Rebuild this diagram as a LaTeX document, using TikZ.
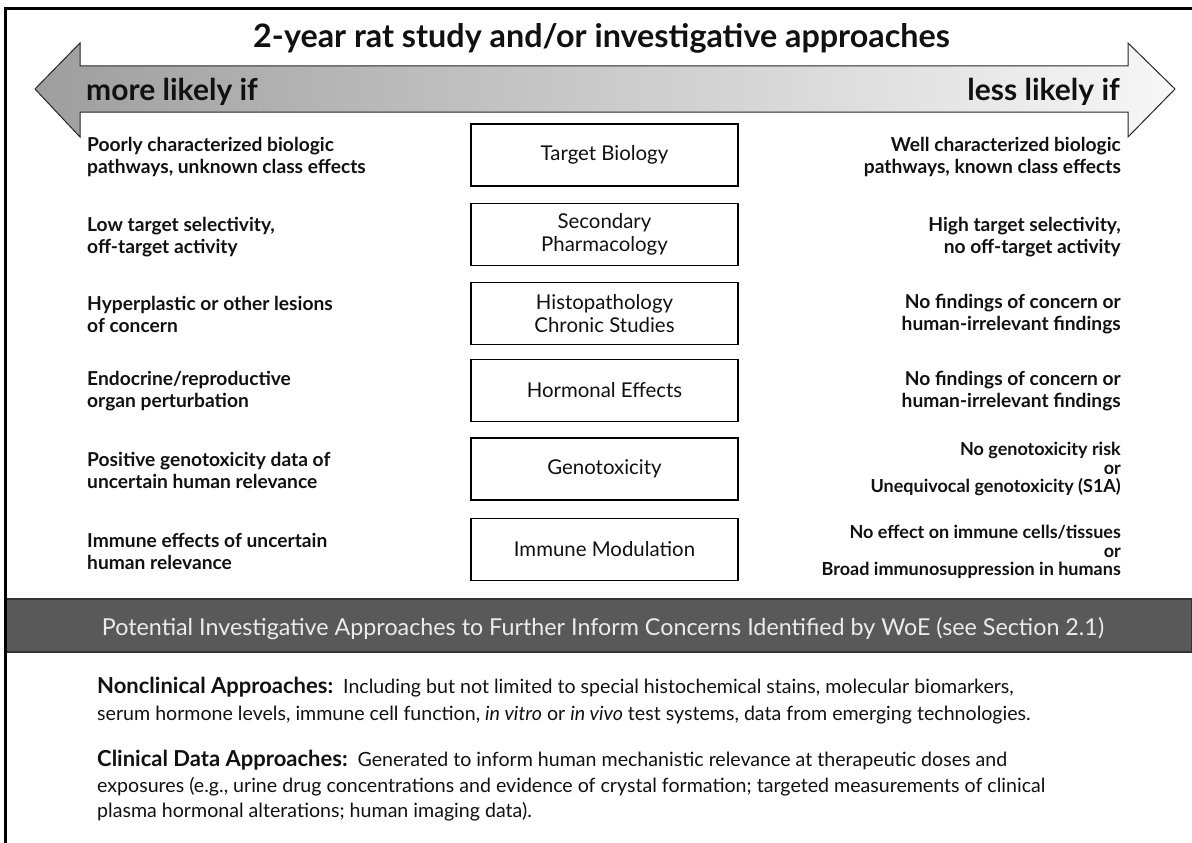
\documentclass[tikz,border=0pt]{standalone}
\usepackage{fontspec}
\setmainfont{Lato}
\definecolor{band}{HTML}{595959}
\definecolor{bandtext}{HTML}{EBEBEB}
\definecolor{ink}{HTML}{111111}
\newcommand{\parahead}[1]{{\bfseries\fontsize{22}{26}\selectfont #1}}
\begin{document}
\begin{tikzpicture}[x=1pt,y=-1pt,
  lefttxt/.style={anchor=west, align=left, inner sep=0, text=ink,
    font=\bfseries\fontsize{19.2}{22}\selectfont},
  righttxt/.style={anchor=east, align=right, inner sep=0, text=ink,
    font=\bfseries\fontsize{19.2}{22}\selectfont},
  rightthree/.style={righttxt, font=\bfseries\fontsize{18}{18.5}\selectfont},
  boxnode/.style={draw=black, line width=1.2, minimum width=267, minimum height=62,
    align=center, inner sep=0, text=ink, font=\fontsize{20.4}{23.5}\selectfont},
  bigtxt/.style={inner sep=0, text=ink, font=\bfseries\fontsize{32.3}{35}\selectfont},
  sidetxt/.style={inner sep=0, text=ink, font=\bfseries\fontsize{30}{32}\selectfont},
  paratxt/.style={anchor=base west, inner sep=0, text=ink,
    font=\fontsize{19.6}{26}\selectfont}
]
\useasboundingbox (0,0) rectangle (1192,843);
\fill[white] (0,0) rectangle (1192,843);

% frame
\draw[line width=3, black] (5.5,843) -- (5.5,8.5) -- (1192,8.5);

% double arrow
\shadedraw[left color=black!38, middle color=black!34, right color=black!3,
  draw=black!85, line width=1]
  (35,89) -- (80,43) -- (80,66) -- (1128,66) -- (1128,43) -- (1175,89)
  -- (1128,137) -- (1128,112) -- (80,112) -- (80,137) -- cycle;

\node[bigtxt, anchor=base] (title) at (601.5,48) {2-year rat study and/or investigative approaches};
\node[sidetxt, anchor=base west] (more) at (86,100) {more likely if};
\node[sidetxt, anchor=base east] (less) at (1120,100) {less likely if};

% central boxes
\node[boxnode] (b1) at (604.5,155) {Target Biology};
\node[boxnode] (b2) at (604.5,234.5) {Secondary\\Pharmacology};
\node[boxnode] (b3) at (604.5,313.5) {Histopathology\\Chronic Studies};
\node[boxnode] (b4) at (604.5,390.5) {Hormonal Effects};
\node[boxnode] (b5) at (604.5,469) {Genotoxicity};
\node[boxnode] (b6) at (604.5,549.5) {Immune Modulation};

% left column
\node[lefttxt] (l1) at (87,157) {Poorly characterized biologic\\pathways, unknown class effects};
\node[lefttxt] (l2) at (87,237) {Low target selectivity,\\off-target activity};
\node[lefttxt] (l3) at (87,314.5) {Hyperplastic or other lesions\\of concern};
\node[lefttxt] (l4) at (87,391.5) {Endocrine/reproductive\\organ perturbation};
\node[lefttxt] (l5) at (87,470) {Positive genotoxicity data of\\uncertain human relevance};
\node[lefttxt] (l6) at (87,551) {Immune effects of uncertain\\human relevance};

% right column
\node[righttxt] (r1) at (1121,157) {Well characterized biologic\\pathways, known class effects};
\node[righttxt] (r2) at (1121,237) {High target selectivity,\\no off-target activity};
\node[righttxt] (r3) at (1121,314.5) {No findings of concern or\\human-irrelevant findings};
\node[righttxt] (r4) at (1121,391.5) {No findings of concern or\\human-irrelevant findings};
\node[rightthree] (r5) at (1121,469) {No genotoxicity risk\\or\\Unequivocal genotoxicity (S1A)};
\node[rightthree] (r6) at (1121,552) {No effect on immune cells/tissues\\or\\Broad immunosuppression in humans};

% dark band
\filldraw[fill=band, draw=black!80, line width=1.5] (5,599) rectangle (1192,652);
\node[anchor=base, inner sep=0, text=bandtext, font=\fontsize{23.3}{26}\selectfont] (band) at (603,635)
  {Potential Investigative Approaches to Further Inform Concerns Identified by WoE (see Section 2.1)};

% paragraphs
\node[paratxt] (p1a) at (97,693) {\parahead{Nonclinical Approaches:}\ \ Including but not limited to special histochemical stains, molecular biomarkers,};
\node[paratxt] (p1b) at (97,720) {serum hormone levels, immune cell function, \textit{in vitro} or \textit{in vivo} test systems, data from emerging technologies.};
\node[paratxt] (p2a) at (97,766) {\parahead{Clinical Data Approaches:}\ \ Generated to inform human mechanistic relevance at therapeutic doses and};
\node[paratxt] (p2b) at (97,792) {exposures (e.g., urine drug concentrations and evidence of crystal formation; targeted measurements of clinical};
\node[paratxt] (p2c) at (97,817) {plasma hormonal alterations; human imaging data).};

% redraw left frame over band
\draw[line width=3, black] (5.5,843) -- (5.5,8.5);
\end{tikzpicture}
\end{document}
